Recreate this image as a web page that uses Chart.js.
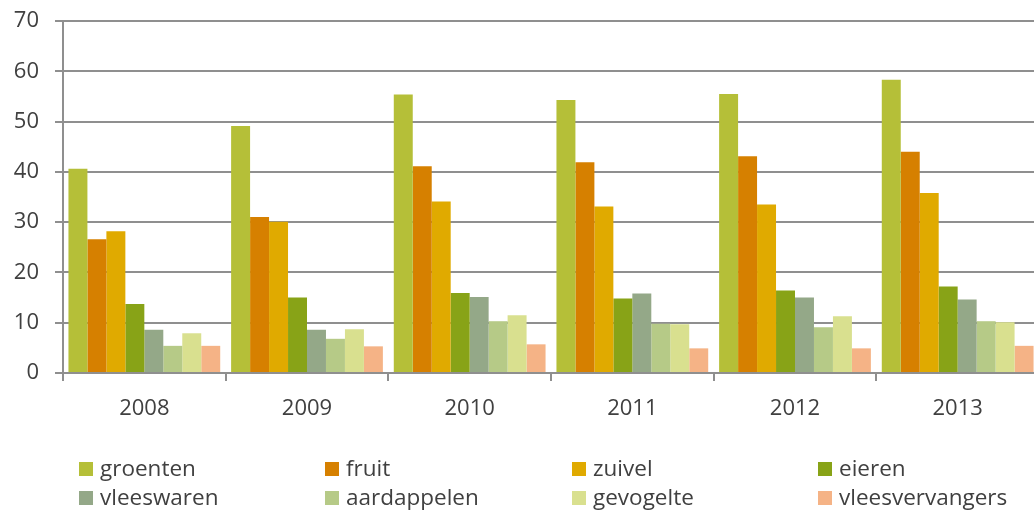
<!DOCTYPE html>
<html>
<head>
<meta charset="utf-8">
<script src="https://cdn.jsdelivr.net/npm/chart.js@4/dist/chart.umd.min.js"></script>
<style>
  html, body { margin: 0; padding: 0; overflow: hidden; background: #fff; }
  #wrap { position: relative; width: 1040px; height: 514px; }
  #cv { position: absolute; left: 0; top: 0; }
  #legend { position: absolute; left: 0; top: 0; width: 1040px; height: 514px; pointer-events: none;
            font-family: "Open Sans", sans-serif; font-size: 22.5px; color: #404040; }
  .item { position: absolute; white-space: nowrap; line-height: 26px; }
  .box { position: absolute; width: 14px; height: 14px; }
</style>
</head>
<body>
<div id="wrap">
  <canvas id="cv" width="1040" height="440" style="width:1040px;height:440px"></canvas>
  <div id="legend"></div>
</div>
<script>
const years = ["2008", "2009", "2010", "2011", "2012", "2013"];
const seriesNames = ["groenten", "fruit", "zuivel", "eieren", "vleeswaren", "aardappelen", "gevogelte", "vleesvervangers"];
const seriesColors = ["#b5bf38", "#d68000", "#e0aa00", "#88a317", "#94a888", "#b6ca87", "#d9e08f", "#f5b386"];
const groenten       = [40.6, 49.1, 55.4, 54.3, 55.5, 58.3];
const fruit          = [26.6, 31.0, 41.1, 41.9, 43.1, 44.0];
const zuivel         = [28.2, 30.1, 34.1, 33.1, 33.5, 35.8];
const eieren         = [13.7, 15.0, 15.9, 14.8, 16.4, 17.2];
const vleeswaren     = [8.6, 8.6, 15.1, 15.8, 15.0, 14.6];
const aardappelen    = [5.4, 6.8, 10.3, 9.8, 9.1, 10.3];
const gevogelte      = [7.9, 8.7, 11.5, 9.7, 11.3, 10.1];
const vleesvervangers= [5.4, 5.3, 5.7, 4.9, 4.9, 5.4];
const yTicks = [0, 10, 20, 30, 40, 50, 60, 70];

const seriesValues = [groenten, fruit, zuivel, eieren, vleeswaren, aardappelen, gevogelte, vleesvervangers];

const datasets = seriesNames.map((name, i) => ({
  label: name,
  data: seriesValues[i],
  backgroundColor: seriesColors[i],
  borderWidth: 0,
  barPercentage: 1.0,
  categoryPercentage: 0.933
}));

const font = { family: "'Open Sans', sans-serif", size: 22 };
const gridColor = "#8f8f8f";

new Chart(document.getElementById("cv"), {
  type: "bar",
  data: { labels: years, datasets },
  options: {
    responsive: false,
    animation: false,
    layout: { padding: { top: 21, right: 1, left: 0, bottom: 0 } },
    plugins: { legend: { display: false }, tooltip: { enabled: false } },
    scales: {
      x: {
        grid: { drawOnChartArea: false, drawTicks: true, tickLength: 8, color: gridColor, lineWidth: 2, offset: true },
        border: { color: gridColor, width: 2 },
        ticks: { color: "#404040", font, padding: 15, maxRotation: 0 },
        afterFit: s => { s.height = 440 - 373; s.paddingLeft = 0; s.paddingRight = 0; }
      },
      y: {
        min: 0, max: 70,
        afterBuildTicks: s => { s.ticks = yTicks.map(v => ({ value: v })); },
        grid: { color: gridColor, lineWidth: 2, drawTicks: true, tickLength: 8 },
        border: { color: gridColor, width: 2 },
        ticks: { color: "#404040", font, padding: 16 },
        afterFit: s => { s.width = 63; s.paddingTop = 0; s.paddingBottom = 0; }
      }
    }
  }
});

const legend = document.getElementById("legend");
const colX = [79, 325, 572, 818];
const rowY = [462, 491];
seriesNames.forEach((name, i) => {
  const c = i % 4, r = Math.floor(i / 4);
  const box = document.createElement("div");
  box.className = "box";
  box.style.left = colX[c] + "px";
  box.style.top = rowY[r] + "px";
  box.style.background = seriesColors[i];
  legend.appendChild(box);
  const t = document.createElement("div");
  t.className = "item";
  t.style.left = (colX[c] + 21) + "px";
  t.style.top = (rowY[r] - 7) + "px";
  t.textContent = name;
  legend.appendChild(t);
});
</script>
</body>
</html>
